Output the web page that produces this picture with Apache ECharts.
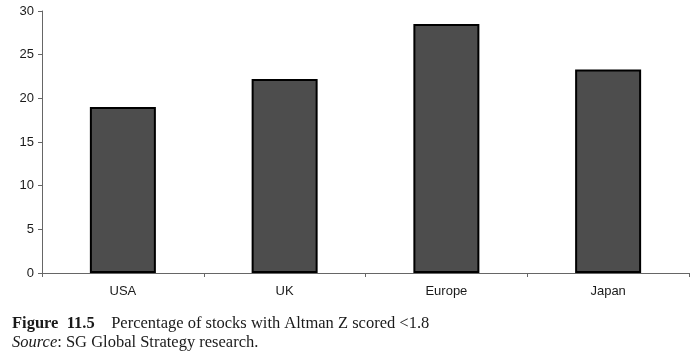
<!DOCTYPE html>
<html><head><meta charset="utf-8">
<script src="https://cdn.jsdelivr.net/npm/echarts@6/dist/echarts.min.js"></script>
<style>html,body{margin:0;padding:0;background:#fff}#c{width:700px;height:355px}</style>
</head><body><div id="c"></div>
<script>
const categories = ['USA', 'UK', 'Europe', 'Japan'];
const values = [19.0, 22.2, 28.5, 23.3];
const yTicks = { min: 0, max: 30, interval: 5 };

const serif = 'Liberation Serif, Times New Roman';
const chart = echarts.init(document.getElementById('c'), null, { renderer: 'canvas' });
chart.setOption({
  animation: false,
  backgroundColor: '#fff',
  grid: { left: 42, right: 11, top: 11, bottom: 82, containLabel: false },
  xAxis: {
    type: 'category', data: categories,
    axisLine: { lineStyle: { color: '#666', width: 1 } },
    axisTick: { show: true, alignWithLabel: false, length: 4, lineStyle: { color: '#666' } },
    axisLabel: { color: '#1a1a1a', fontFamily: 'Liberation Sans, Arial', fontSize: 13, margin: 12 }
  },
  yAxis: {
    type: 'value', min: yTicks.min, max: yTicks.max, interval: yTicks.interval,
    splitLine: { show: false },
    axisLine: { show: true, lineStyle: { color: '#666', width: 1 } },
    axisTick: { show: true, length: 4, lineStyle: { color: '#666' } },
    axisLabel: { color: '#1a1a1a', fontFamily: 'Liberation Sans, Arial', fontSize: 13, margin: 8 }
  },
  series: [{
    type: 'bar', data: values, barWidth: 66,
    itemStyle: { color: '#4d4d4d', borderColor: '#000', borderWidth: 2 }
  }],
  graphic: [
    { type: 'text', left: 12, top: 315, style: {
      text: '{b|Figure  11.5}    Percentage of stocks with Altman Z scored <1.8',
      fontFamily: serif, fontSize: 16.5, fill: '#1a1a1a',
      rich: { b: { fontWeight: 'bold', fontFamily: serif, fontSize: 16.5, fill: '#1a1a1a' } }
    }},
    { type: 'text', left: 12, top: 334, style: {
      text: '{i|Source}: SG Global Strategy research.',
      fontFamily: serif, fontSize: 16.5, fill: '#1a1a1a',
      rich: { i: { fontStyle: 'italic', fontFamily: serif, fontSize: 16.5, fill: '#1a1a1a' } }
    }}
  ]
});
</script></body></html>
